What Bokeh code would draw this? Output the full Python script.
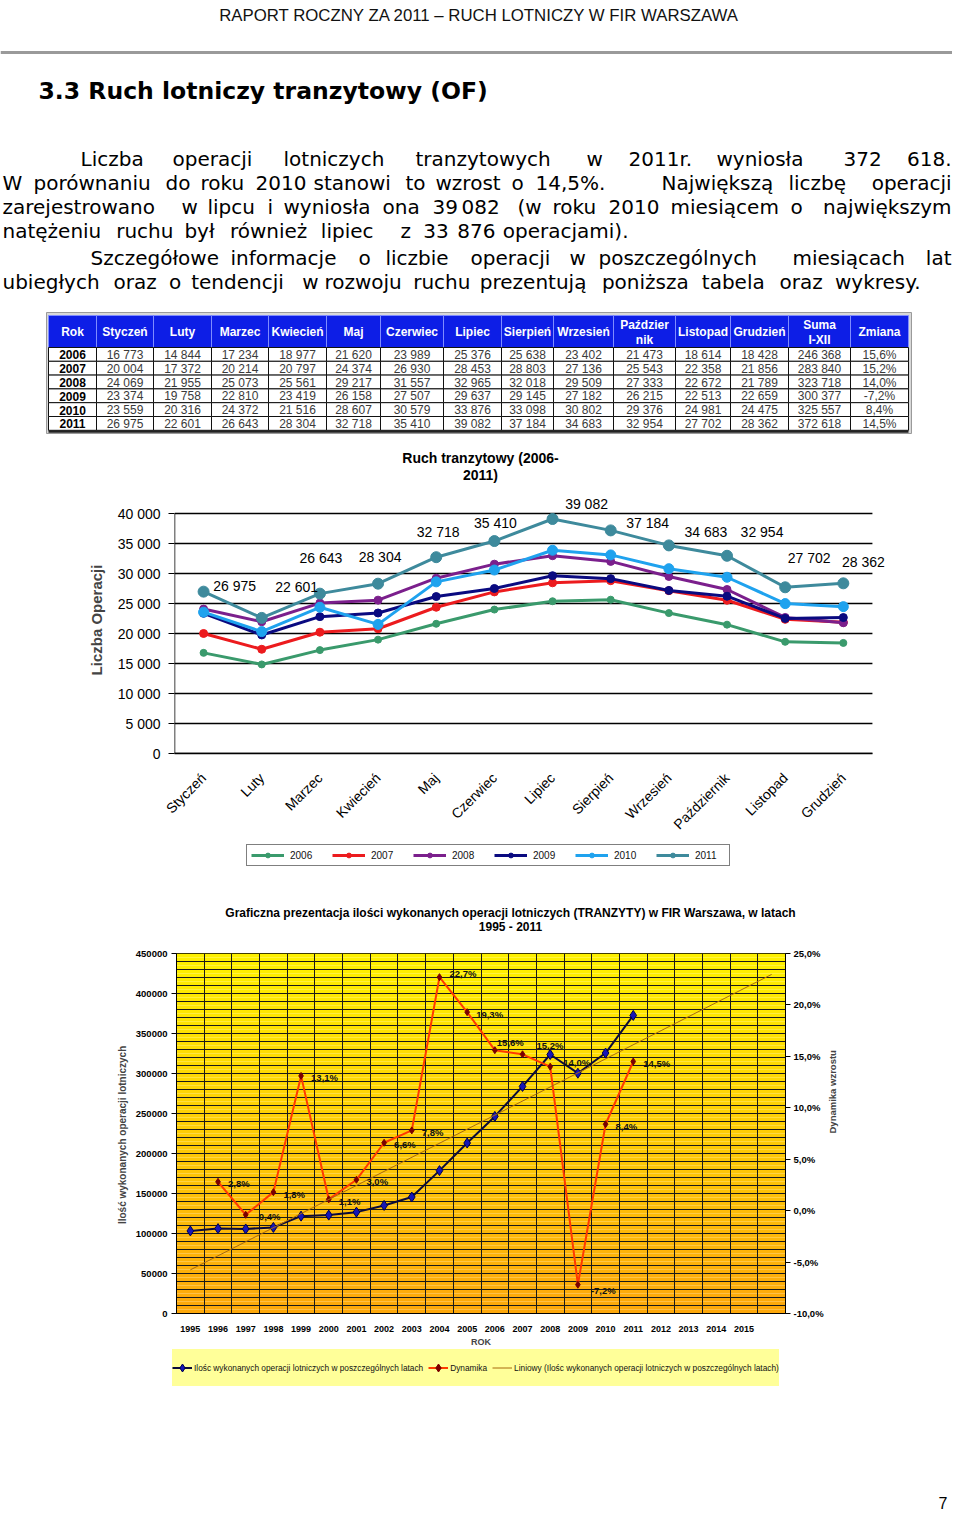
import math
import numpy as np
from bokeh.plotting import figure
from bokeh.layouts import column
from bokeh.models import Range1d, FixedTicker, LinearAxis, Legend, LegendItem, ColumnDataSource
from bokeh.core.properties import value
from bokeh.embed import file_html
from bokeh.resources import INLINE

# ---------------- data ----------------
months = ["Styczeń", "Luty", "Marzec", "Kwiecień", "Maj", "Czerwiec", "Lipiec",
          "Sierpień", "Wrzesień", "Październik", "Listopad", "Grudzień"]
years = ["2006", "2007", "2008", "2009", "2010", "2011"]
ops_2006 = [16773, 14844, 17234, 18977, 21620, 23989, 25376, 25638, 23402, 21473, 18614, 18428]
ops_2007 = [20004, 17372, 20214, 20797, 24374, 26930, 28453, 28803, 27136, 25543, 22358, 21856]
ops_2008 = [24069, 21955, 25073, 25561, 29217, 31557, 32965, 32018, 29509, 27333, 22672, 21789]
ops_2009 = [23374, 19758, 22810, 23419, 26158, 27507, 29637, 29145, 27182, 26215, 22513, 22659]
ops_2010 = [23559, 20316, 24372, 21516, 28607, 30579, 33876, 33098, 30802, 29376, 24981, 24475]
ops_2011 = [26975, 22601, 26643, 28304, 32718, 35410, 39082, 37184, 34683, 32954, 27702, 28362]
year_change = ["15,6%", "15,2%", "14,0%", "-7,2%", "8,4%", "14,5%"]

table_headers = ["Rok", "Styczeń", "Luty", "Marzec", "Kwiecień", "Maj", "Czerwiec", "Lipiec",
                 "Sierpień", "Wrzesień", "Paździer\nnik", "Listopad", "Grudzień", "Suma\nI-XII", "Zmiana"]

annual_years = list(range(1995, 2012))
annual_ops = [103200, 106100, 105700, 107600, 121700, 123000, 126700, 135100, 145600,
              178600, 213100, 246368, 283840, 323718, 300377, 325557, 372618]
dyn_years = list(range(1996, 2012))
dynamics = [2.8, -0.4, 1.8, 13.1, 1.1, 3.0, 6.6, 7.8, 22.7, 19.3, 15.6, 15.2, 14.0, -7.2, 8.4, 14.5]

series = [ops_2006, ops_2007, ops_2008, ops_2009, ops_2010, ops_2011]

# ---------------- styles ----------------
W = 952
ARIAL = value("Liberation Sans")
VERD = value("DejaVu Sans")
series_colors = ["#3A9A6C", "#EC1B1E", "#7B1F8C", "#0A0A80", "#1FA2EE", "#3E8A9C"]
series_sizes = [7, 8, 8, 8, 10, 11]
TOT_LINE, TOT_FILL, TOT_EDGE = "#0a0a3a", "#1616B8", "#00004a"
DYN_LINE, DYN_MARK = "#FF3A00", "#7a0000"
TREND = "#A8690F"


def fmt_sp(v):
    return f"{v:,}".replace(",", " ")


def pct(v):
    return f"{v:.1f}%".replace(".", ",")


def blank_fig(top, bottom):
    p = figure(width=W, height=bottom - top, x_range=Range1d(0, W), y_range=Range1d(bottom, top),
               output_backend="svg", toolbar_location=None, x_axis_location=None,
               y_axis_location=None, min_border=0, frame_align=False)
    p.outline_line_color = None
    p.xgrid.visible = False
    p.ygrid.visible = False
    return p


# ================= figure A: header, text, table, chart-1 title =================
pA = blank_fig(0, 486)
pA.text(x=[479], y=[15], text=["RAPORT ROCZNY ZA 2011 – RUCH LOTNICZY W FIR WARSZAWA"],
        text_font=ARIAL, text_font_size="16.8px", text_align="center", text_baseline="alphabetic",
        text_color="#111111")
pA.segment(x0=[0], y0=[52], x1=[952], y1=[52], line_color="#9a9a9a", line_width=3)
pA.text(x=[38], y=[90], text=["3.3  Ruch lotniczy tranzytowy (OF)"], text_font=VERD,
        text_font_size="23.5px", text_font_style="bold", text_baseline="alphabetic", text_color="#000000")

PFS = "20px"
para = [
    ("Liczba operacji lotniczych tranzytowych w 2011r. wyniosła 372 618.", 158,
     [80, 172, 283, 415, 586, 628, 716, 843, None]),
    ("W porównaniu do roku 2010 stanowi to wzrost o 14,5%. Największą liczbę operacji", 182,
     [2, 33, 165, 200, 255, 313, 405, 435, 511, 535, 661, 788, None]),
    ("zarejestrowano w lipcu i wyniosła ona 39 082 (w roku 2010 miesiącem o największym", 206,
     [2, 181, 207, 267, 283, 382, 432, 461, 517, 552, 608, 670, 790, None]),
    ("natężeniu ruchu był również lipiec z 33 876 operacjami).", 230, (2, 11.37)),
    ("Szczegółowe informacje o liczbie operacji w poszczególnych miesiącach lat", 257,
     [90, 230, 358, 385, 470, 569, 598, 792, None]),
    ("ubiegłych oraz o tendencji w rozwoju ruchu prezentują poniższa tabela oraz wykresy.", 281, (2, 11.1)),
]
for line, yb, starts in para:
    words = line.split(" ")
    if isinstance(starts, tuple):
        x0, cw = starts
        xs_l, idx = [], 0
        for w in words:
            xs_l.append(x0 + idx * cw)
            idx += len(w) + 1
        pA.text(x=xs_l, y=[yb] * len(xs_l), text=words, text_font=VERD, text_font_size=PFS,
                text_baseline="alphabetic", text_color="#000000")
        continue
    xs_l = [s for s in starts if s is not None]
    pA.text(x=xs_l, y=[yb] * len(xs_l), text=words[:len(xs_l)], text_font=VERD,
            text_font_size=PFS, text_baseline="alphabetic", text_color="#000000")
    pA.text(x=[951], y=[yb], text=[words[-1]], text_font=VERD, text_font_size=PFS,
            text_align="right", text_baseline="alphabetic", text_color="#000000")

# table
col_edges = [48, 96, 153, 211, 268, 326, 380, 443, 501, 553, 613, 675, 730, 788, 850, 908]
head_top, head_bot = 315, 347
row_h = 13.8
ncol = len(col_edges) - 1
pA.quad(left=[46], right=[911], top=[312], bottom=[433], fill_color="#d8d8d8", line_color="#9a9a9a",
        line_width=1)
pA.quad(left=col_edges[:-1], right=col_edges[1:], top=[head_top] * ncol, bottom=[head_bot] * ncol,
        fill_color="#0D1EE6", line_color="#7f8cff", line_width=1)
centers = [(a + b) / 2 for a, b in zip(col_edges[:-1], col_edges[1:])]
h1x, h1y, h1t = [], [], []
for cx, h in zip(centers, table_headers):
    parts = h.split("\n")
    if len(parts) == 1:
        h1x.append(cx); h1y.append((head_top + head_bot) / 2); h1t.append(h)
    else:
        h1x += [cx, cx]; h1y += [head_top + 9, head_top + 24]; h1t += parts
pA.text(x=h1x, y=h1y, text=h1t, text_font=ARIAL, text_font_size="12px",
        text_font_style="bold", text_color="white", text_align="center", text_baseline="middle")

cl, cr, ct, cb = [], [], [], []
tx, ty, tt = [], [], []
for r, (yr, vals) in enumerate(zip(years, series)):
    top = head_bot + r * row_h
    row = [yr] + [fmt_sp(v) for v in vals] + [fmt_sp(sum(vals)), year_change[r]]
    for c in range(ncol):
        cl.append(col_edges[c]); cr.append(col_edges[c + 1]); ct.append(top); cb.append(top + row_h)
        tx.append(centers[c]); ty.append(top + row_h / 2 + 0.5); tt.append(row[c])
pA.quad(left=cl, right=cr, top=ct, bottom=cb, fill_color="white", line_color="#111111", line_width=1)
pA.text(x=[t for i, t in enumerate(tx) if i % ncol != 0], y=[t for i, t in enumerate(ty) if i % ncol != 0],
        text=[t for i, t in enumerate(tt) if i % ncol != 0], text_font=ARIAL, text_font_size="12px",
        text_color="#3a3a3a", text_align="center", text_baseline="middle")
pA.text(x=[tx[i] for i in range(0, len(tx), ncol)], y=[ty[i] for i in range(0, len(ty), ncol)],
        text=years, text_font=ARIAL, text_font_size="12px", text_font_style="bold",
        text_color="#000000", text_align="center", text_baseline="middle")
pA.segment(x0=[48], y0=[431], x1=[908], y1=[431], line_color="#222222", line_width=2.5)

pA.text(x=[480, 480], y=[457, 474], text=["Ruch tranzytowy (2006-", "2011)"], text_font=ARIAL,
        text_font_size="14px", text_font_style="bold", text_align="center", text_baseline="middle",
        text_color="#000000")

# ================= figure B: monthly chart =================
xi = list(range(len(months)))
p1 = figure(width=W, height=354, x_range=Range1d(-0.5, 12.0), y_range=Range1d(0, 44500),
            output_backend="svg", toolbar_location=None, min_border_left=174, min_border_right=51,
            min_border_top=0, min_border_bottom=87, frame_align=False)
p1.outline_line_color = None
y_ticks = list(range(0, 40001, 5000))
p1.yaxis.ticker = FixedTicker(ticks=y_ticks)
p1.yaxis.major_label_overrides = {t: fmt_sp(t) for t in y_ticks}
p1.yaxis.major_label_text_font = "Liberation Sans"
p1.yaxis.major_label_text_font_size = "14px"
p1.yaxis.major_label_text_color = "#000000"
p1.yaxis.major_tick_out = 6
p1.yaxis.major_tick_in = 0
p1.yaxis.minor_tick_line_color = None
p1.yaxis.major_label_standoff = 8
p1.yaxis.axis_line_color = None
p1.yaxis.axis_label = "Liczba Operacji"
p1.yaxis.axis_label_text_font = "Liberation Sans"
p1.yaxis.axis_label_text_font_size = "15px"
p1.yaxis.axis_label_text_font_style = "bold"
p1.yaxis.axis_label_standoff = 10
p1.ygrid.visible = False
p1.xgrid.visible = False
# horizontal grid lines across the twelve month bands only
p1.segment(x0=[-0.5] * len(y_ticks), y0=y_ticks, x1=[len(months) - 0.5] * len(y_ticks), y1=y_ticks,
           line_color="#000000", line_width=1.3)
p1.segment(x0=[-0.5], y0=[0], x1=[-0.5], y1=[max(y_ticks)], line_color="#000000", line_width=1.5)

p1.xaxis.ticker = FixedTicker(ticks=xi)
p1.xaxis.bounds = (-0.5, len(months) - 0.5)
p1.xaxis.major_label_overrides = {i: m for i, m in zip(xi, months)}
p1.xaxis.major_label_orientation = math.pi / 4
p1.xaxis.major_label_text_font = "Liberation Sans"
p1.xaxis.major_label_text_font_size = "14px"
p1.xaxis.major_label_text_color = "#000000"
p1.xaxis.major_tick_line_color = None
p1.xaxis.minor_tick_line_color = None
p1.xaxis.axis_line_color = "#000000"
p1.xaxis.axis_line_width = 1.3
p1.xaxis.major_label_standoff = 16

for yr, vals, col, sz in zip(years, series, series_colors, series_sizes):
    p1.line(xi, vals, line_color=col, line_width=3)
    p1.scatter(xi, vals, size=sz, fill_color=col, line_color=col)

lab_dx = [31, 35, 1, 2, 2, 1, 34, 37, 37, 35, 24, 20]
lab_dy = [-6, -31, -36, -27, -25, -18, -15, -7, -13, -24, -29, -21]
src_lab = ColumnDataSource(dict(x=xi, y=ops_2011, t=[fmt_sp(v) for v in ops_2011], dx=lab_dx, dy=lab_dy))
p1.text(x="x", y="y", text="t", x_offset="dx", y_offset="dy", source=src_lab, text_font=ARIAL,
        text_font_size="14px", text_align="center", text_baseline="middle", text_color="#000000")


def legend_fig(top, bottom):
    # strip that only shows a legend; its renderers hold the series but lie outside the view
    p = figure(width=W, height=bottom - top, x_range=Range1d(-1e9, -1e9 + 1), y_range=Range1d(-1e9, -1e9 + 1),
               output_backend="svg", toolbar_location=None, x_axis_location=None,
               y_axis_location=None, min_border=0, frame_align=False)
    p.outline_line_color = None
    p.xgrid.visible = False
    p.ygrid.visible = False
    return p


# ---- legend strip of chart 1 ----
L1 = legend_fig(840, 880)
items1 = []
for yr, vals, col in zip(years, series, series_colors):
    rl = L1.line(xi, vals, line_color=col, line_width=3)
    rs = L1.scatter(xi, vals, size=8, fill_color=col, line_color=col)
    items1.append(LegendItem(label=yr, renderers=[rl, rs]))
leg1 = Legend(items=items1, orientation="horizontal", location=(246, 14),
              label_text_font_size="10px", label_text_color="#111111", glyph_width=33, glyph_height=12,
              label_width=30, spacing=12, padding=4, margin=0, border_line_color="#000000",
              border_line_width=1.5, label_standoff=6)
leg1.label_text_font = "Liberation Sans"
L1.add_layout(leg1)

# ================= figure C: chart-2 title =================
pC = blank_fig(880, 945)
pC.text(x=[510, 510], y=[912, 926],
        text=["Graficzna prezentacja ilości wykonanych operacji lotniczych (TRANZYTY) w FIR Warszawa, w latach",
              "1995 - 2011"], text_font=ARIAL, text_font_size="12px", text_font_style="bold",
        text_align="center", text_baseline="middle", text_color="#000000")

# ================= figure D: annual chart =================
p2 = figure(width=W, height=404, x_range=Range1d(1994.5, 2016.5), y_range=Range1d(0, 450000),
            output_backend="svg", toolbar_location=None, min_border_left=176, min_border_right=167,
            min_border_top=8, min_border_bottom=34, frame_align=False)
p2.extra_y_ranges = {"dyn": Range1d(-10, 25)}
p2.outline_line_color = "#000000"

# gradient background (yellow -> orange)
nb = 90
edges = np.linspace(0, 450000, nb + 1)
cols = []
for i in range(nb):
    f = (i + 0.5) / nb  # 0 bottom -> 1 top
    r = 253 + 2 * f
    g = 168 + 74 * f
    b = 12 * (1 - f)
    cols.append("#%02x%02x%02x" % (int(r), int(g), int(b)))
p2.quad(left=1994.5, right=2016.5, bottom=edges[:-1], top=edges[1:], fill_color=cols,
        line_color=None, level="image")

p2.ygrid.ticker = FixedTicker(ticks=list(range(0, 450001, 10000)))
p2.ygrid.grid_line_color = "#1a1a1a"
p2.ygrid.grid_line_width = 1
p2.xgrid.ticker = FixedTicker(ticks=[y + 0.5 for y in range(1995, 2016)])
p2.xgrid.grid_line_color = "#1a1a1a"
p2.xgrid.grid_line_width = 1

left_ticks = list(range(0, 450001, 50000))
ax = p2.yaxis[0]
ax.ticker = FixedTicker(ticks=left_ticks)
ax.major_label_overrides = {t: str(t) for t in left_ticks}
ax.major_label_text_font = "Liberation Sans"
ax.major_label_text_font_size = "9.5px"
ax.major_label_text_font_style = "bold"
ax.major_label_text_color = "#000000"
ax.major_tick_out = 5
ax.major_tick_in = 0
ax.minor_tick_line_color = None
ax.major_label_standoff = 4
ax.axis_label = "Ilość wykonanych  operacji lotniczych"
ax.axis_label_text_font = "Liberation Sans"
ax.axis_label_text_font_size = "10px"
ax.axis_label_text_font_style = "bold"
ax.axis_label_standoff = 5

dyn_ticks = [-10, -5, 0, 5, 10, 15, 20, 25]
rax = LinearAxis(y_range_name="dyn", ticker=FixedTicker(ticks=dyn_ticks),
                 major_label_overrides={t: pct(t) for t in dyn_ticks})
rax.major_label_text_font = "Liberation Sans"
rax.major_label_text_font_size = "9.5px"
rax.major_label_text_font_style = "bold"
rax.major_label_text_color = "#000000"
rax.major_tick_out = 5
rax.major_tick_in = 0
rax.minor_tick_line_color = None
rax.major_label_standoff = 3
rax.axis_label = "Dynamika wzrostu"
rax.axis_label_text_font = "Liberation Sans"
rax.axis_label_text_font_size = "9.5px"
rax.axis_label_text_font_style = "bold"
rax.axis_label_standoff = 6
rax.axis_label_orientation = math.pi / 2
p2.add_layout(rax, "right")

xax = p2.xaxis[0]
xax.ticker = FixedTicker(ticks=list(range(1995, 2016)))
xax.major_label_text_font = "Liberation Sans"
xax.major_label_text_font_size = "9px"
xax.major_label_text_font_style = "bold"
xax.major_label_text_color = "#000000"
xax.major_tick_line_color = None
xax.minor_tick_line_color = None
xax.major_label_standoff = 6
xax.axis_label = "ROK"
xax.axis_label_text_font = "Liberation Sans"
xax.axis_label_text_font_size = "9px"
xax.axis_label_text_font_style = "bold"
xax.axis_label_standoff = 2

p2.line(annual_years, annual_ops, line_color=TOT_LINE, line_width=2)
p2.scatter(annual_years, annual_ops, marker="diamond", size=10, fill_color=TOT_FILL, line_color=TOT_EDGE)
p2.line(dyn_years, dynamics, y_range_name="dyn", line_color=DYN_LINE, line_width=2)
p2.scatter(dyn_years, dynamics, y_range_name="dyn", marker="diamond", size=7,
           fill_color=DYN_MARK, line_color=DYN_MARK)

coef = np.polyfit(annual_years, annual_ops, 1)
trend_x = [annual_years[0], 2016]
trend_y = [float(np.polyval(coef, x)) for x in trend_x]
p2.line(trend_x, trend_y, line_color=TREND, line_width=1)

dyn_dx = [10, 10, 10, 10, 10, 10, 10, 10, 10, 9, 2, 14, 13, 13, 10, 10]
dyn_dy = [2, 2, 2, 2, 2, 2, 2, 2, -4, 2, -8, -9, -4, 6, 2, 2]
src_dyn = ColumnDataSource(dict(x=dyn_years, y=dynamics, t=[pct(d) for d in dynamics], dx=dyn_dx, dy=dyn_dy))
p2.text(x="x", y="y", text="t", x_offset="dx", y_offset="dy", source=src_dyn, y_range_name="dyn",
        text_font=ARIAL, text_font_size="9.5px", text_font_style="bold", text_baseline="middle",
        text_color="#111111")

# ---- legend strip of chart 2 ----
L2 = legend_fig(1349, 1400)
ra = L2.line(annual_years, annual_ops, line_color=TOT_LINE, line_width=2)
rb = L2.scatter(annual_years, annual_ops, marker="diamond", size=7, fill_color=TOT_FILL, line_color=TOT_EDGE)
rc = L2.line(dyn_years, dynamics, line_color=DYN_LINE, line_width=2)
rd = L2.scatter(dyn_years, dynamics, marker="diamond", size=6, fill_color=DYN_MARK, line_color=DYN_MARK)
re_ = L2.line(trend_x, trend_y, line_color=TREND, line_width=1)
leg2 = Legend(items=[
    LegendItem(label="Ilośc wykonanych operacji lotniczych w poszczególnych latach", renderers=[ra, rb]),
    LegendItem(label="Dynamika", renderers=[rc, rd]),
    LegendItem(label="Liniowy (Ilośc wykonanych operacji lotniczych w poszczególnych latach)", renderers=[re_]),
], orientation="horizontal", location=(172, 14), label_text_font_size="8.3px", label_text_color="#111111",
    glyph_width=20, glyph_height=37, label_standoff=2, spacing=5, padding=4, margin=0,
    background_fill_color="#FFFF99", background_fill_alpha=1, border_line_color=None)
leg2.label_text_font = "Liberation Sans"
L2.add_layout(leg2)

# ================= figure E: page number =================
pE = blank_fig(1400, 1519)
pE.text(x=[947], y=[1502], text=["7"], text_font=ARIAL, text_font_size="16px", text_align="right",
        text_baseline="alphabetic", text_color="#000000")

layout = column(pA, p1, L1, pC, p2, L2, pE, spacing=0)
open("out.html", "w").write(file_html(layout, INLINE))
